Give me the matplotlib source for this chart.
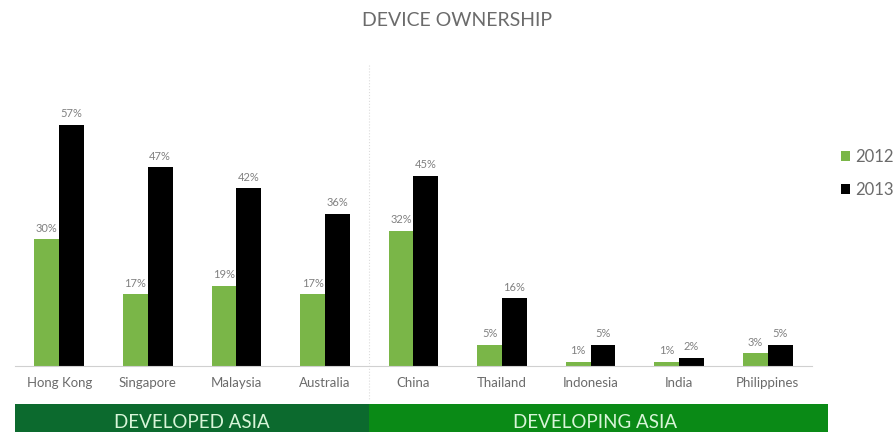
import numpy as np
import matplotlib.pyplot as plt
import matplotlib.transforms as mtransforms
from matplotlib.patches import Rectangle

plt.rcParams['font.family'] = ['Lato', 'DejaVu Sans']

# ─── Data ────────────────────────────────────────────────────────────────────

COUNTRIES = ["Hong Kong", "Singapore", "Malaysia", "Australia", "China",
             "Thailand", "Indonesia", "India", "Philippines"]
OWN_2012 = [30, 17, 19, 17, 32, 5, 1, 1, 3]
OWN_2013 = [57, 47, 42, 36, 45, 16, 5, 2, 5]
YEARS = ["2012", "2013"]
GROUPS = ["DEVELOPED ASIA", "DEVELOPING ASIA"]
N_DEVELOPED = 4

GREEN = "#7ab648"
BLACK = "#000000"
GREY_TXT = "#6b6b6b"

# ─── Plot ────────────────────────────────────────────────────────────────────

fig = plt.figure(figsize=(8.94, 4.32), dpi=100)
ax = fig.add_axes([15 / 894, 66 / 432, 797 / 894, 296 / 432])

x = np.arange(len(COUNTRIES))
w = 0.28
b12 = ax.bar(x - w / 2, OWN_2012, w, color=GREEN, label=YEARS[0])
b13 = ax.bar(x + w / 2, OWN_2013, w, color=BLACK, label=YEARS[1])

for bars, vals in ((b12, OWN_2012), (b13, OWN_2013)):
    for bar, v in zip(bars, vals):
        ax.annotate(f"{v}%", (bar.get_x() + bar.get_width() / 2, v),
                    xytext=(0, 4), textcoords="offset points",
                    ha="center", va="bottom", fontsize=8, color="#808080")

ax.set_xlim(-0.5, len(COUNTRIES) - 0.5)
ax.set_ylim(0, 70)
ax.set_yticks([])
ax.set_xticks(x)
ax.set_xticklabels(COUNTRIES, fontsize=9.5, color=GREY_TXT)
ax.tick_params(axis="x", length=0, pad=8)
for s in ("top", "right", "left"):
    ax.spines[s].set_visible(False)
ax.spines["bottom"].set_color("#d0d0d0")

# divider between the two regions + coloured group band underneath
split = N_DEVELOPED - 0.5
trans = mtransforms.blended_transform_factory(ax.transData, fig.transFigure)
ax.plot([split, split], [1 - 65 / 432, 1 - 400 / 432], transform=trans,
        color="#dcdcdc", linestyle=":", linewidth=0.8, clip_on=False)

band_y0, band_h = 0, 28 / 432
right_end = len(COUNTRIES) - 0.5 + 16 / 88.6
ax.add_patch(Rectangle((-0.5, band_y0), split + 0.5, band_h, transform=trans,
                       color="#0c6a2e", clip_on=False, linewidth=0))
ax.add_patch(Rectangle((split, band_y0), right_end - split, band_h,
                       transform=trans, color="#0a8a16", clip_on=False,
                       linewidth=0))
ax.text((split - 0.5) / 2, 1 - 422 / 432, GROUPS[0], transform=trans,
        ha="center", va="center", fontsize=13.5, color="#d8f5d8")
ax.text((split + len(COUNTRIES) - 0.5) / 2 + 0.05, 1 - 422 / 432, GROUPS[1],
        transform=trans, ha="center", va="center", fontsize=13.5,
        color="#d8f5d8")

fig.text(457 / 894, 1 - 20 / 432, "DEVICE OWNERSHIP", ha="center",
         va="center", fontsize=14, color=GREY_TXT)

fig.legend(handles=[b12, b13], loc="upper left",
           bbox_to_anchor=(826 / 894, 1 - 134 / 432), frameon=False,
           fontsize=12, handlelength=0.55, handleheight=0.55,
           handletextpad=0.3, labelspacing=1.0, labelcolor=GREY_TXT)

fig.savefig("out.png", dpi=100)
